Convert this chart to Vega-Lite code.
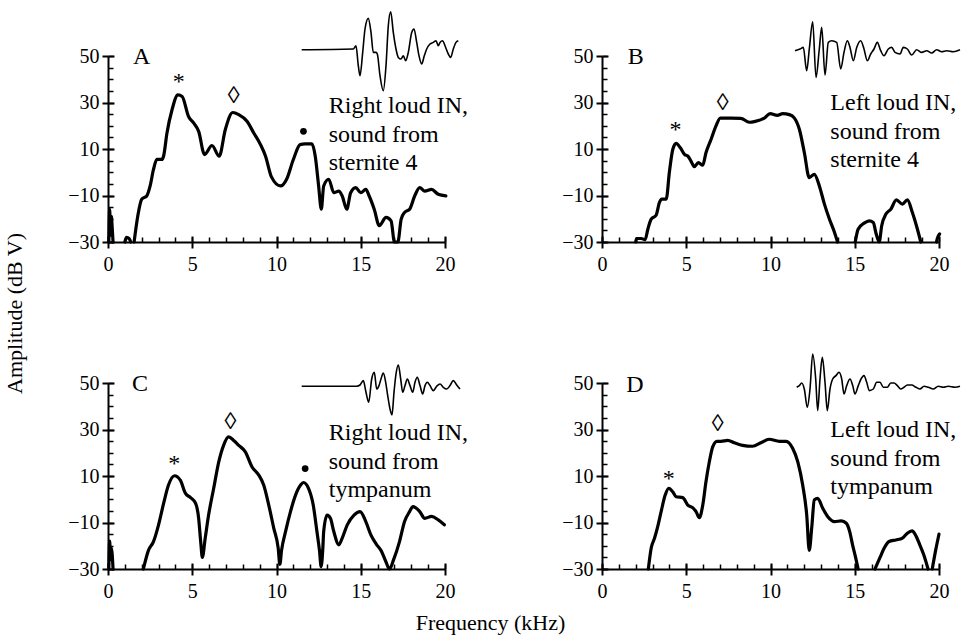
{
"$schema": "https://vega.github.io/schema/vega-lite/v6.json",
"padding": {"left": 3, "top": 8, "right": 5, "bottom": 5},
"bounds": "flush",
"columns": 2,
"spacing": {"row": 141, "column": 157},
"config": {
  "view": {"stroke": null},
  "font": "Liberation Serif",
  "axis": {"labelFont": "Liberation Serif", "labelFontSize": 20, "labelColor": "#000", "domainColor": "#000", "tickColor": "#000", "grid": false, "titleFont": "Liberation Serif", "titleFontSize": 22, "titleFontWeight": "normal", "titleColor": "#000", "labelFlush": false, "labelOverlap": false, "domainWidth": 2, "tickWidth": 2},
  "text": {"font": "Liberation Serif", "color": "#000"}
},
"datasets": {
"curves": [
{"p":"A","s":0,"f":0.05,"db":-30},{"p":"A","s":0,"f":0.1,"db":-16},{"p":"A","s":0,"f":0.15,"db":-27},{"p":"A","s":0,"f":0.2,"db":-19},{"p":"A","s":0,"f":0.25,"db":-24},{"p":"A","s":0,"f":0.3,"db":-30},
{"p":"A","s":1,"f":1.0,"db":-30},{"p":"A","s":1,"f":1.1,"db":-28},{"p":"A","s":1,"f":1.25,"db":-28.5},{"p":"A","s":1,"f":1.35,"db":-30},
{"p":"A","s":2,"f":1.55,"db":-30},{"p":"A","s":2,"f":1.77,"db":-18.7},{"p":"A","s":2,"f":2.0,"db":-11.6},{"p":"A","s":2,"f":2.3,"db":-10.2},{"p":"A","s":2,"f":2.5,"db":-5.9},{"p":"A","s":2,"f":2.7,"db":1.2},{"p":"A","s":2,"f":2.9,"db":5.5},{"p":"A","s":2,"f":3.2,"db":5.5},{"p":"A","s":2,"f":3.3,"db":7},{"p":"A","s":2,"f":3.5,"db":16.9},{"p":"A","s":2,"f":3.8,"db":26.9},{"p":"A","s":2,"f":4.15,"db":33.3},{"p":"A","s":2,"f":4.4,"db":32.6},{"p":"A","s":2,"f":4.78,"db":24.0},{"p":"A","s":2,"f":5.08,"db":21.2},{"p":"A","s":2,"f":5.38,"db":17.6},{"p":"A","s":2,"f":5.73,"db":7.6},{"p":"A","s":2,"f":6.17,"db":11.5},{"p":"A","s":2,"f":6.6,"db":6.9},{"p":"A","s":2,"f":6.96,"db":18.3},{"p":"A","s":2,"f":7.4,"db":25.7},{"p":"A","s":2,"f":7.76,"db":24.8},{"p":"A","s":2,"f":8.25,"db":21.9},{"p":"A","s":2,"f":8.65,"db":16.9},{"p":"A","s":2,"f":9.05,"db":11.9},{"p":"A","s":2,"f":9.35,"db":6.9},{"p":"A","s":2,"f":9.7,"db":-2},{"p":"A","s":2,"f":10.24,"db":-5.9},{"p":"A","s":2,"f":10.6,"db":-3},{"p":"A","s":2,"f":11.0,"db":5.5},{"p":"A","s":2,"f":11.4,"db":11.9},{"p":"A","s":2,"f":11.7,"db":12.2},{"p":"A","s":2,"f":12.1,"db":12.2},{"p":"A","s":2,"f":12.3,"db":6.9},{"p":"A","s":2,"f":12.5,"db":-5.9},{"p":"A","s":2,"f":12.66,"db":-15.9},{"p":"A","s":2,"f":12.8,"db":-5.9},{"p":"A","s":2,"f":13.1,"db":-3},{"p":"A","s":2,"f":13.4,"db":-8.8},{"p":"A","s":2,"f":13.7,"db":-8.1},{"p":"A","s":2,"f":13.9,"db":-10.2},{"p":"A","s":2,"f":14.17,"db":-15.9},{"p":"A","s":2,"f":14.4,"db":-8.8},{"p":"A","s":2,"f":14.7,"db":-6.6},{"p":"A","s":2,"f":15.0,"db":-8.8},{"p":"A","s":2,"f":15.3,"db":-7.4},{"p":"A","s":2,"f":15.5,"db":-10.2},{"p":"A","s":2,"f":15.8,"db":-15.9},{"p":"A","s":2,"f":16.1,"db":-23},{"p":"A","s":2,"f":16.5,"db":-19.4},{"p":"A","s":2,"f":16.8,"db":-20.9},{"p":"A","s":2,"f":17.0,"db":-30},{"p":"A","s":2,"f":17.2,"db":-30},{"p":"A","s":2,"f":17.4,"db":-20.2},{"p":"A","s":2,"f":17.6,"db":-17.3},{"p":"A","s":2,"f":17.9,"db":-15.9},{"p":"A","s":2,"f":18.2,"db":-10.2},{"p":"A","s":2,"f":18.5,"db":-6.6},{"p":"A","s":2,"f":18.8,"db":-8.1},{"p":"A","s":2,"f":19.2,"db":-7.4},{"p":"A","s":2,"f":19.6,"db":-9.5},{"p":"A","s":2,"f":20.05,"db":-10.2},
{"p":"B","s":1,"f":2.0,"db":-30},{"p":"B","s":1,"f":2.05,"db":-28.5},{"p":"B","s":1,"f":2.33,"db":-28.5},{"p":"B","s":1,"f":2.56,"db":-29},{"p":"B","s":1,"f":2.72,"db":-24.5},{"p":"B","s":1,"f":2.92,"db":-20.2},{"p":"B","s":1,"f":3.21,"db":-18.5},{"p":"B","s":1,"f":3.41,"db":-13},{"p":"B","s":1,"f":3.55,"db":-11.6},{"p":"B","s":1,"f":3.81,"db":-11.6},{"p":"B","s":1,"f":4.0,"db":0.1},{"p":"B","s":1,"f":4.2,"db":9.8},{"p":"B","s":1,"f":4.4,"db":12.4},{"p":"B","s":1,"f":4.65,"db":10.5},{"p":"B","s":1,"f":4.9,"db":7.6},{"p":"B","s":1,"f":5.09,"db":7},{"p":"B","s":1,"f":5.28,"db":4.8},{"p":"B","s":1,"f":5.48,"db":2.4},{"p":"B","s":1,"f":5.72,"db":4.1},{"p":"B","s":1,"f":5.98,"db":3.1},{"p":"B","s":1,"f":6.17,"db":8.4},{"p":"B","s":1,"f":6.47,"db":14.1},{"p":"B","s":1,"f":6.76,"db":19.8},{"p":"B","s":1,"f":7.02,"db":23.3},{"p":"B","s":1,"f":7.65,"db":23.3},{"p":"B","s":1,"f":8.24,"db":23.2},{"p":"B","s":1,"f":8.74,"db":21.5},{"p":"B","s":1,"f":9.1,"db":21.9},{"p":"B","s":1,"f":9.63,"db":23.3},{"p":"B","s":1,"f":9.98,"db":25.2},{"p":"B","s":1,"f":10.4,"db":24.5},{"p":"B","s":1,"f":10.73,"db":25.2},{"p":"B","s":1,"f":11.12,"db":24.8},{"p":"B","s":1,"f":11.42,"db":23.3},{"p":"B","s":1,"f":11.72,"db":18.3},{"p":"B","s":1,"f":12.01,"db":8.4},{"p":"B","s":1,"f":12.3,"db":-2.3},{"p":"B","s":1,"f":12.6,"db":-0.9},{"p":"B","s":1,"f":12.9,"db":-5.9},{"p":"B","s":1,"f":13.2,"db":-13.7},{"p":"B","s":1,"f":13.5,"db":-20.2},{"p":"B","s":1,"f":13.8,"db":-25.9},{"p":"B","s":1,"f":13.98,"db":-30},
{"p":"B","s":2,"f":15.03,"db":-30},{"p":"B","s":2,"f":15.2,"db":-24.5},{"p":"B","s":2,"f":15.56,"db":-21.9},{"p":"B","s":2,"f":15.86,"db":-20.9},{"p":"B","s":2,"f":16.1,"db":-21.6},{"p":"B","s":2,"f":16.25,"db":-25.9},{"p":"B","s":2,"f":16.45,"db":-30},{"p":"B","s":2,"f":16.6,"db":-23},{"p":"B","s":2,"f":16.85,"db":-18},{"p":"B","s":2,"f":17.14,"db":-15.9},{"p":"B","s":2,"f":17.47,"db":-11.9},{"p":"B","s":2,"f":17.83,"db":-13.7},{"p":"B","s":2,"f":18.12,"db":-11.9},{"p":"B","s":2,"f":18.42,"db":-17.3},{"p":"B","s":2,"f":18.72,"db":-24.5},{"p":"B","s":2,"f":18.92,"db":-30},
{"p":"B","s":3,"f":19.85,"db":-30},{"p":"B","s":3,"f":19.9,"db":-28.5},{"p":"B","s":3,"f":20.04,"db":-26.5},
{"p":"C","s":0,"f":0.05,"db":-30},{"p":"C","s":0,"f":0.1,"db":-18},{"p":"C","s":0,"f":0.15,"db":-26},{"p":"C","s":0,"f":0.2,"db":-21},{"p":"C","s":0,"f":0.3,"db":-30},
{"p":"C","s":1,"f":2.1,"db":-30},{"p":"C","s":1,"f":2.4,"db":-22},{"p":"C","s":1,"f":2.7,"db":-18.2},{"p":"C","s":1,"f":3.0,"db":-11},{"p":"C","s":1,"f":3.3,"db":-1.8},{"p":"C","s":1,"f":3.59,"db":6.1},{"p":"C","s":1,"f":3.95,"db":10.1},{"p":"C","s":1,"f":4.29,"db":8.2},{"p":"C","s":1,"f":4.6,"db":2.5},{"p":"C","s":1,"f":4.9,"db":0.7},{"p":"C","s":1,"f":5.2,"db":-1.8},{"p":"C","s":1,"f":5.38,"db":-8.2},{"p":"C","s":1,"f":5.5,"db":-18.2},{"p":"C","s":1,"f":5.6,"db":-25},{"p":"C","s":1,"f":5.77,"db":-16.7},{"p":"C","s":1,"f":5.97,"db":-6.8},{"p":"C","s":1,"f":6.27,"db":4.6},{"p":"C","s":1,"f":6.57,"db":16},{"p":"C","s":1,"f":6.86,"db":23.2},{"p":"C","s":1,"f":7.16,"db":26.8},{"p":"C","s":1,"f":7.46,"db":25.3},{"p":"C","s":1,"f":7.76,"db":23.2},{"p":"C","s":1,"f":8.15,"db":20.4},{"p":"C","s":1,"f":8.55,"db":13.9},{"p":"C","s":1,"f":8.95,"db":10.4},{"p":"C","s":1,"f":9.24,"db":6.1},{"p":"C","s":1,"f":9.54,"db":-2.5},{"p":"C","s":1,"f":9.84,"db":-12.5},{"p":"C","s":1,"f":10.1,"db":-21},{"p":"C","s":1,"f":10.2,"db":-28},{"p":"C","s":1,"f":10.3,"db":-22},{"p":"C","s":1,"f":10.54,"db":-13.8},{"p":"C","s":1,"f":10.83,"db":-5.3},{"p":"C","s":1,"f":11.13,"db":1.8},{"p":"C","s":1,"f":11.43,"db":6.1},{"p":"C","s":1,"f":11.6,"db":7.2},{"p":"C","s":1,"f":11.9,"db":4.7},{"p":"C","s":1,"f":12.18,"db":-2.5},{"p":"C","s":1,"f":12.4,"db":-13.9},{"p":"C","s":1,"f":12.55,"db":-22},{"p":"C","s":1,"f":12.65,"db":-29},{"p":"C","s":1,"f":12.75,"db":-21},{"p":"C","s":1,"f":12.8,"db":-13.9},{"p":"C","s":1,"f":13.0,"db":-6.8},{"p":"C","s":1,"f":13.2,"db":-8.2},{"p":"C","s":1,"f":13.4,"db":-13.9},{"p":"C","s":1,"f":13.7,"db":-19.6},{"p":"C","s":1,"f":13.9,"db":-16.7},{"p":"C","s":1,"f":14.2,"db":-11},{"p":"C","s":1,"f":14.6,"db":-6.8},{"p":"C","s":1,"f":14.96,"db":-5.3},{"p":"C","s":1,"f":15.3,"db":-9.6},{"p":"C","s":1,"f":15.6,"db":-15.3},{"p":"C","s":1,"f":15.95,"db":-19.6},{"p":"C","s":1,"f":16.2,"db":-22},{"p":"C","s":1,"f":16.5,"db":-27},{"p":"C","s":1,"f":16.7,"db":-30},{"p":"C","s":1,"f":16.95,"db":-26},{"p":"C","s":1,"f":17.3,"db":-18.2},{"p":"C","s":1,"f":17.6,"db":-9.6},{"p":"C","s":1,"f":17.9,"db":-5.3},{"p":"C","s":1,"f":18.1,"db":-3.2},{"p":"C","s":1,"f":18.5,"db":-5.3},{"p":"C","s":1,"f":18.8,"db":-8.2},{"p":"C","s":1,"f":19.2,"db":-7.4},{"p":"C","s":1,"f":19.6,"db":-8.9},{"p":"C","s":1,"f":19.96,"db":-11},
{"p":"D","s":1,"f":2.75,"db":-30},{"p":"D","s":1,"f":2.92,"db":-21},{"p":"D","s":1,"f":3.12,"db":-16.7},{"p":"D","s":1,"f":3.31,"db":-11.7},{"p":"D","s":1,"f":3.51,"db":-5.3},{"p":"D","s":1,"f":3.75,"db":1.8},{"p":"D","s":1,"f":3.96,"db":4.7},{"p":"D","s":1,"f":4.2,"db":3.2},{"p":"D","s":1,"f":4.4,"db":1.1},{"p":"D","s":1,"f":4.79,"db":0.7},{"p":"D","s":1,"f":5.09,"db":-2.5},{"p":"D","s":1,"f":5.38,"db":-3.6},{"p":"D","s":1,"f":5.58,"db":-5.3},{"p":"D","s":1,"f":5.78,"db":-7.9},{"p":"D","s":1,"f":5.98,"db":-2.5},{"p":"D","s":1,"f":6.17,"db":7.5},{"p":"D","s":1,"f":6.37,"db":16.1},{"p":"D","s":1,"f":6.57,"db":22.5},{"p":"D","s":1,"f":6.82,"db":24.9},{"p":"D","s":1,"f":7.06,"db":24.9},{"p":"D","s":1,"f":7.46,"db":25.3},{"p":"D","s":1,"f":7.85,"db":24.3},{"p":"D","s":1,"f":8.34,"db":23.2},{"p":"D","s":1,"f":8.93,"db":22.8},{"p":"D","s":1,"f":9.43,"db":24.3},{"p":"D","s":1,"f":9.92,"db":25.8},{"p":"D","s":1,"f":10.53,"db":24.9},{"p":"D","s":1,"f":10.93,"db":24.9},{"p":"D","s":1,"f":11.32,"db":21.8},{"p":"D","s":1,"f":11.62,"db":16.1},{"p":"D","s":1,"f":11.91,"db":6.1},{"p":"D","s":1,"f":12.15,"db":-6.8},{"p":"D","s":1,"f":12.3,"db":-22},{"p":"D","s":1,"f":12.45,"db":-12},{"p":"D","s":1,"f":12.6,"db":-0.3},{"p":"D","s":1,"f":12.8,"db":0.4},{"p":"D","s":1,"f":13.1,"db":-3.9},{"p":"D","s":1,"f":13.4,"db":-7.5},{"p":"D","s":1,"f":13.8,"db":-9.6},{"p":"D","s":1,"f":14.2,"db":-9.3},{"p":"D","s":1,"f":14.5,"db":-10.3},{"p":"D","s":1,"f":14.7,"db":-13.9},{"p":"D","s":1,"f":14.87,"db":-19.6},{"p":"D","s":1,"f":15.05,"db":-25},{"p":"D","s":1,"f":15.2,"db":-30},
{"p":"D","s":2,"f":16.2,"db":-30},{"p":"D","s":2,"f":16.5,"db":-25},{"p":"D","s":2,"f":16.75,"db":-21},{"p":"D","s":2,"f":17.04,"db":-18.2},{"p":"D","s":2,"f":17.44,"db":-17.5},{"p":"D","s":2,"f":17.83,"db":-16.7},{"p":"D","s":2,"f":18.12,"db":-14.6},{"p":"D","s":2,"f":18.4,"db":-13.6},{"p":"D","s":2,"f":18.6,"db":-15.3},{"p":"D","s":2,"f":18.86,"db":-19.6},{"p":"D","s":2,"f":19.1,"db":-24},{"p":"D","s":2,"f":19.35,"db":-30},
{"p":"D","s":3,"f":19.6,"db":-30},{"p":"D","s":3,"f":19.8,"db":-22},{"p":"D","s":3,"f":20.0,"db":-15}
],
"waves": [
{"p":"A","t":0,"v":0},{"p":"A","t":51.6,"v":0.7},{"p":"A","t":54.3,"v":4},{"p":"A","t":56.6,"v":-16},{"p":"A","t":58.3,"v":-26},{"p":"A","t":61,"v":-2.7},{"p":"A","t":63.3,"v":20.7},{"p":"A","t":66.6,"v":31.3},{"p":"A","t":69.3,"v":17.3},{"p":"A","t":71.6,"v":-2.7},{"p":"A","t":74.3,"v":-2.7},{"p":"A","t":75.6,"v":-4.3},{"p":"A","t":78.3,"v":-26},{"p":"A","t":81.6,"v":-41},{"p":"A","t":84.3,"v":-16},{"p":"A","t":86.6,"v":24},{"p":"A","t":89,"v":38},{"p":"A","t":91.6,"v":17.3},{"p":"A","t":94.3,"v":0.7},{"p":"A","t":96.6,"v":-7.7},{"p":"A","t":99.3,"v":-9.3},{"p":"A","t":101.6,"v":-6},{"p":"A","t":104,"v":-11},{"p":"A","t":106.6,"v":-2.7},{"p":"A","t":110,"v":17.3},{"p":"A","t":112.3,"v":20.7},{"p":"A","t":115,"v":7.3},{"p":"A","t":117.3,"v":-6},{"p":"A","t":120,"v":-14.3},{"p":"A","t":122.6,"v":-6},{"p":"A","t":125,"v":0.7},{"p":"A","t":128.3,"v":5.7},{"p":"A","t":131.6,"v":7.3},{"p":"A","t":134.3,"v":9},{"p":"A","t":136.6,"v":4},{"p":"A","t":138.3,"v":7.3},{"p":"A","t":141,"v":9},{"p":"A","t":143.3,"v":4},{"p":"A","t":146.6,"v":-4.3},{"p":"A","t":149,"v":-7.7},{"p":"A","t":151.6,"v":0.7},{"p":"A","t":154.3,"v":7.3},{"p":"A","t":156.6,"v":9},
{"p":"B","t":0,"v":0},{"p":"B","t":5,"v":1.7},{"p":"B","t":8.3,"v":3.3},{"p":"B","t":11.7,"v":-20},{"p":"B","t":14.3,"v":1.7},{"p":"B","t":17.7,"v":29},{"p":"B","t":21,"v":-26.7},{"p":"B","t":24.3,"v":1.7},{"p":"B","t":26.7,"v":23.3},{"p":"B","t":30,"v":-24.3},{"p":"B","t":33.3,"v":8.3},{"p":"B","t":36.7,"v":10},{"p":"B","t":41.7,"v":8.3},{"p":"B","t":45.7,"v":-18.3},{"p":"B","t":49,"v":-1.7},{"p":"B","t":52.3,"v":10},{"p":"B","t":55,"v":3.3},{"p":"B","t":58.3,"v":-10},{"p":"B","t":61.7,"v":3.3},{"p":"B","t":65.7,"v":10},{"p":"B","t":69,"v":1.7},{"p":"B","t":72.3,"v":-10},{"p":"B","t":75.7,"v":-3.3},{"p":"B","t":79,"v":1.7},{"p":"B","t":82.3,"v":8.3},{"p":"B","t":85.7,"v":0},{"p":"B","t":89,"v":-5},{"p":"B","t":93.3,"v":1.7},{"p":"B","t":96.7,"v":3.3},{"p":"B","t":100,"v":-1.7},{"p":"B","t":105,"v":-3.3},{"p":"B","t":108.3,"v":3.3},{"p":"B","t":112.3,"v":1.7},{"p":"B","t":116.7,"v":-4.3},{"p":"B","t":121.7,"v":1},{"p":"B","t":126.7,"v":-1.7},{"p":"B","t":131.7,"v":0},{"p":"B","t":136.7,"v":-2.3},{"p":"B","t":141.7,"v":1},{"p":"B","t":146.7,"v":-1},{"p":"B","t":151.7,"v":0},{"p":"B","t":158.3,"v":-1},{"p":"B","t":165,"v":1},
{"p":"C","t":0,"v":0},{"p":"C","t":55,"v":0},{"p":"C","t":58.3,"v":1.3},{"p":"C","t":61.6,"v":5.7},{"p":"C","t":64.3,"v":-6},{"p":"C","t":67,"v":-16},{"p":"C","t":70,"v":7.3},{"p":"C","t":72.6,"v":14},{"p":"C","t":75,"v":-2.7},{"p":"C","t":77.3,"v":0.7},{"p":"C","t":79.3,"v":7.3},{"p":"C","t":81.6,"v":13.3},{"p":"C","t":84,"v":4},{"p":"C","t":86,"v":-9.3},{"p":"C","t":88.3,"v":-22.7},{"p":"C","t":90.3,"v":-28.7},{"p":"C","t":92.3,"v":-6},{"p":"C","t":94.3,"v":12.3},{"p":"C","t":96.6,"v":21.3},{"p":"C","t":99,"v":7.3},{"p":"C","t":101,"v":-6},{"p":"C","t":103.3,"v":0.7},{"p":"C","t":105.6,"v":7.3},{"p":"C","t":108.3,"v":0.7},{"p":"C","t":111,"v":-6},{"p":"C","t":113.3,"v":4},{"p":"C","t":115.6,"v":9},{"p":"C","t":118.3,"v":0.7},{"p":"C","t":121,"v":-7.7},{"p":"C","t":123.3,"v":0.7},{"p":"C","t":125.6,"v":4},{"p":"C","t":128.3,"v":0.7},{"p":"C","t":131.6,"v":-4.3},{"p":"C","t":135,"v":0},{"p":"C","t":138.3,"v":2.3},{"p":"C","t":141.6,"v":-1},{"p":"C","t":145,"v":-2.7},{"p":"C","t":148.3,"v":0.7},{"p":"C","t":151.6,"v":5.7},{"p":"C","t":155,"v":1.3},{"p":"C","t":158.3,"v":-2.7},
{"p":"D","t":0,"v":-1},{"p":"D","t":2.6,"v":0.7},{"p":"D","t":5,"v":3.3},{"p":"D","t":7.6,"v":-2.7},{"p":"D","t":10.6,"v":-21},{"p":"D","t":13.3,"v":-2.7},{"p":"D","t":16,"v":32.3},{"p":"D","t":19,"v":7.3},{"p":"D","t":21,"v":-24.3},{"p":"D","t":23.3,"v":7.3},{"p":"D","t":25.6,"v":29},{"p":"D","t":28.3,"v":4},{"p":"D","t":30.6,"v":-24.3},{"p":"D","t":33.3,"v":-2.7},{"p":"D","t":36,"v":7.3},{"p":"D","t":39.3,"v":10.7},{"p":"D","t":42.3,"v":14},{"p":"D","t":45,"v":7.3},{"p":"D","t":47.3,"v":-7.7},{"p":"D","t":50,"v":0.7},{"p":"D","t":53.3,"v":7.3},{"p":"D","t":56,"v":0.7},{"p":"D","t":58.3,"v":-7.7},{"p":"D","t":61.6,"v":0.7},{"p":"D","t":64.3,"v":7.3},{"p":"D","t":67.3,"v":10.7},{"p":"D","t":70,"v":4},{"p":"D","t":72.6,"v":-4.3},{"p":"D","t":76.6,"v":-2.7},{"p":"D","t":80,"v":4},{"p":"D","t":83.3,"v":4},{"p":"D","t":86.6,"v":-1},{"p":"D","t":90.6,"v":-1},{"p":"D","t":94,"v":3.3},{"p":"D","t":97.3,"v":3.3},{"p":"D","t":100.6,"v":0.7},{"p":"D","t":104,"v":-2.7},{"p":"D","t":107.3,"v":-1},{"p":"D","t":110.6,"v":1.3},{"p":"D","t":115,"v":1.3},{"p":"D","t":119.3,"v":-1},{"p":"D","t":123.3,"v":-2.7},{"p":"D","t":127.3,"v":0},{"p":"D","t":131.6,"v":-1},{"p":"D","t":136.6,"v":-2.7},{"p":"D","t":141.6,"v":0},{"p":"D","t":146.6,"v":-1},{"p":"D","t":151.6,"v":0},{"p":"D","t":158.3,"v":-1},{"p":"D","t":163.3,"v":0}
],
"marks": [
{"p":"A","f":2.0,"db":49.5,"txt":"A"},{"p":"A","f":4.2,"db":39,"txt":"*"},{"p":"A","f":7.46,"db":32.6,"txt":"◊"},{"p":"A","f":11.6,"db":17.6,"txt":"•"},
{"p":"B","f":2.0,"db":49.5,"txt":"B"},{"p":"B","f":4.36,"db":18.2,"txt":"*"},{"p":"B","f":7.16,"db":30,"txt":"◊"},
{"p":"C","f":1.9,"db":49.5,"txt":"C"},{"p":"C","f":3.93,"db":15.3,"txt":"*"},{"p":"C","f":7.26,"db":33.2,"txt":"◊"},{"p":"C","f":11.7,"db":13.2,"txt":"•"},
{"p":"D","f":1.95,"db":49.2,"txt":"D"},{"p":"D","f":3.96,"db":8.9,"txt":"*"},{"p":"D","f":6.86,"db":32.5,"txt":"◊"}
],
"notes": [
{"p":"A","f":13.1,"db":28.5,"txt":"Right loud IN,"},{"p":"A","f":13.1,"db":16.2,"txt":"sound from"},{"p":"A","f":13.1,"db":4.1,"txt":"sternite 4"},
{"p":"B","f":13.55,"db":30,"txt":"Left loud IN,"},{"p":"B","f":13.55,"db":17.4,"txt":"sound from"},{"p":"B","f":13.55,"db":5.4,"txt":"sternite 4"},
{"p":"C","f":13.1,"db":28.5,"txt":"Right loud IN,"},{"p":"C","f":13.1,"db":16.2,"txt":"sound from"},{"p":"C","f":13.1,"db":4.1,"txt":"tympanum"},
{"p":"D","f":13.55,"db":30,"txt":"Left loud IN,"},{"p":"D","f":13.55,"db":17.4,"txt":"sound from"},{"p":"D","f":13.55,"db":5.4,"txt":"tympanum"}
]
},
"concat": [
{"width": 337, "height": 186,
 "layer": [
  {"data": {"name": "curves"}, "transform": [{"filter": "datum.p==='A'"}],
   "mark": {"type": "line", "color": "#000", "strokeWidth": 3.2, "strokeJoin": "round", "strokeCap": "round", "interpolate": "monotone"},
   "encoding": {
    "x": {"field": "f", "type": "quantitative", "scale": {"domain": [0, 20], "nice": false, "zero": false}, "axis": {"orient": "bottom", "values": [0, 5, 10, 15, 20], "tickSize": 6, "labelPadding": 6, "title": null}},
    "y": {"field": "db", "type": "quantitative", "scale": {"domain": [-30, 50], "nice": false, "zero": false}, "axis": {"orient": "left", "values": [-30, -10, 10, 30, 50], "tickSize": 6, "labelPadding": 3, "title": "Amplitude (dB V)", "titleX": -94, "titleY": 257, "titleAngle": -90, "titleAlign": "center", "titleBaseline": "middle"}},
    "detail": {"field": "s", "type": "nominal"},
    "order": {"field": "f", "type": "quantitative"}}},
  {"data": {"name": "marks"}, "transform": [{"filter": "datum.p==='A' && datum.txt!=='•'"}],
   "mark": {"type": "text", "fontSize": 24, "baseline": "middle", "align": "center"},
   "encoding": {
    "x": {"field": "f", "type": "quantitative", "scale": {"domain": [0, 20], "nice": false, "zero": false}, "axis": {"orient": "bottom", "values": [0, 5, 10, 15, 20], "tickSize": -6, "domain": false, "labels": false, "title": null}},
    "y": {"field": "db", "type": "quantitative", "scale": {"domain": [-30, 50], "nice": false, "zero": false}, "axis": {"orient": "left", "values": [-30, -10, 10, 30, 50], "tickSize": -6, "domain": false, "labels": false, "title": null}},
    "text": {"field": "txt"}}},
  {"data": {"name": "marks"}, "transform": [{"filter": "datum.p==='A' && datum.txt==='•'"}],
   "mark": {"type": "point", "filled": true, "shape": "circle", "size": 45, "color": "#000", "opacity": 1},
   "encoding": {
    "x": {"field": "f", "type": "quantitative", "scale": {"domain": [0, 20], "nice": false, "zero": false}, "axis": null},
    "y": {"field": "db", "type": "quantitative", "scale": {"domain": [-30, 50], "nice": false, "zero": false}, "axis": null}}},
  {"data": {"name": "notes"}, "transform": [{"filter": "datum.p==='A'"}],
   "mark": {"type": "text", "fontSize": 24, "baseline": "middle", "align": "left"},
   "encoding": {
    "x": {"field": "f", "type": "quantitative", "scale": {"domain": [0, 20], "nice": false, "zero": false}, "axis": {"orient": "bottom", "values": [0,1,2,3,4,5,6,7,8,9,10,11,12,13,14,15,16,17,18,19,20], "tickSize": -5, "tickWidth": 1.5, "domain": false, "labels": false, "title": null}},
    "y": {"field": "db", "type": "quantitative", "scale": {"domain": [-30, 50], "nice": false, "zero": false}, "axis": {"orient": "left", "values": [-30,-25,-20,-15,-10,-5,0,5,10,15,20,25,30,35,40,45,50], "tickSize": -5, "tickWidth": 1.5, "domain": false, "labels": false, "title": null}},
    "text": {"field": "txt"}}},
  {"data": {"name": "waves"}, "transform": [{"filter": "datum.p==='A'"}],
   "mark": {"type": "line", "color": "#000", "strokeWidth": 1.6, "interpolate": "monotone"},
   "encoding": {
    "x": {"field": "t", "type": "quantitative", "scale": {"domain": [-193.7, 143.3], "nice": false, "zero": false}, "axis": null},
    "y": {"field": "v", "type": "quantitative", "scale": {"domain": [-192.3, -6.3], "nice": false, "zero": false}, "axis": null},
    "order": {"field": "t", "type": "quantitative"}}}
 ],
 "resolve": {"scale": {"x": "independent", "y": "independent"}, "axis": {"x": "independent", "y": "independent"}}
},
{"width": 337, "height": 186,
 "layer": [
  {"data": {"name": "curves"}, "transform": [{"filter": "datum.p==='B'"}],
   "mark": {"type": "line", "color": "#000", "strokeWidth": 3.2, "strokeJoin": "round", "strokeCap": "round", "interpolate": "monotone"},
   "encoding": {
    "x": {"field": "f", "type": "quantitative", "scale": {"domain": [0, 20], "nice": false, "zero": false}, "axis": {"orient": "bottom", "values": [0, 5, 10, 15, 20], "tickSize": 6, "labelPadding": 6, "title": null}},
    "y": {"field": "db", "type": "quantitative", "scale": {"domain": [-30, 50], "nice": false, "zero": false}, "axis": {"orient": "left", "values": [-30, -10, 10, 30, 50], "tickSize": 6, "labelPadding": 3, "title": null}},
    "detail": {"field": "s", "type": "nominal"},
    "order": {"field": "f", "type": "quantitative"}}},
  {"data": {"name": "marks"}, "transform": [{"filter": "datum.p==='B'"}],
   "mark": {"type": "text", "fontSize": 24, "baseline": "middle", "align": "center"},
   "encoding": {
    "x": {"field": "f", "type": "quantitative", "scale": {"domain": [0, 20], "nice": false, "zero": false}, "axis": {"orient": "bottom", "values": [0, 5, 10, 15, 20], "tickSize": -6, "domain": false, "labels": false, "title": null}},
    "y": {"field": "db", "type": "quantitative", "scale": {"domain": [-30, 50], "nice": false, "zero": false}, "axis": {"orient": "left", "values": [-30, -10, 10, 30, 50], "tickSize": -6, "domain": false, "labels": false, "title": null}},
    "text": {"field": "txt"}}},
  {"data": {"name": "notes"}, "transform": [{"filter": "datum.p==='B'"}],
   "mark": {"type": "text", "fontSize": 24, "baseline": "middle", "align": "left"},
   "encoding": {
    "x": {"field": "f", "type": "quantitative", "scale": {"domain": [0, 20], "nice": false, "zero": false}, "axis": {"orient": "bottom", "values": [0,1,2,3,4,5,6,7,8,9,10,11,12,13,14,15,16,17,18,19,20], "tickSize": -5, "tickWidth": 1.5, "domain": false, "labels": false, "title": null}},
    "y": {"field": "db", "type": "quantitative", "scale": {"domain": [-30, 50], "nice": false, "zero": false}, "axis": {"orient": "left", "values": [-30,-25,-20,-15,-10,-5,0,5,10,15,20,25,30,35,40,45,50], "tickSize": -5, "tickWidth": 1.5, "domain": false, "labels": false, "title": null}},
    "text": {"field": "txt"}}},
  {"data": {"name": "waves"}, "transform": [{"filter": "datum.p==='B'"}],
   "mark": {"type": "line", "color": "#000", "strokeWidth": 1.6, "interpolate": "monotone"},
   "encoding": {
    "x": {"field": "t", "type": "quantitative", "scale": {"domain": [-193, 144], "nice": false, "zero": false}, "axis": null},
    "y": {"field": "v", "type": "quantitative", "scale": {"domain": [-191.3, -5.3], "nice": false, "zero": false}, "axis": null},
    "order": {"field": "t", "type": "quantitative"}}}
 ],
 "resolve": {"scale": {"x": "independent", "y": "independent"}, "axis": {"x": "independent", "y": "independent"}}
},
{"width": 337, "height": 186,
 "layer": [
  {"data": {"name": "curves"}, "transform": [{"filter": "datum.p==='C'"}],
   "mark": {"type": "line", "color": "#000", "strokeWidth": 3.2, "strokeJoin": "round", "strokeCap": "round", "interpolate": "monotone"},
   "encoding": {
    "x": {"field": "f", "type": "quantitative", "scale": {"domain": [0, 20], "nice": false, "zero": false}, "axis": {"orient": "bottom", "values": [0, 5, 10, 15, 20], "tickSize": 6, "labelPadding": 6, "title": "Frequency (kHz)", "titleX": 382, "titleY": 53, "titleAlign": "center", "titleBaseline": "middle"}},
    "y": {"field": "db", "type": "quantitative", "scale": {"domain": [-30, 50], "nice": false, "zero": false}, "axis": {"orient": "left", "values": [-30, -10, 10, 30, 50], "tickSize": 6, "labelPadding": 3, "title": null}},
    "detail": {"field": "s", "type": "nominal"},
    "order": {"field": "f", "type": "quantitative"}}},
  {"data": {"name": "marks"}, "transform": [{"filter": "datum.p==='C' && datum.txt!=='•'"}],
   "mark": {"type": "text", "fontSize": 24, "baseline": "middle", "align": "center"},
   "encoding": {
    "x": {"field": "f", "type": "quantitative", "scale": {"domain": [0, 20], "nice": false, "zero": false}, "axis": {"orient": "bottom", "values": [0, 5, 10, 15, 20], "tickSize": -6, "domain": false, "labels": false, "title": null}},
    "y": {"field": "db", "type": "quantitative", "scale": {"domain": [-30, 50], "nice": false, "zero": false}, "axis": {"orient": "left", "values": [-30, -10, 10, 30, 50], "tickSize": -6, "domain": false, "labels": false, "title": null}},
    "text": {"field": "txt"}}},
  {"data": {"name": "marks"}, "transform": [{"filter": "datum.p==='C' && datum.txt==='•'"}],
   "mark": {"type": "point", "filled": true, "shape": "circle", "size": 45, "color": "#000", "opacity": 1},
   "encoding": {
    "x": {"field": "f", "type": "quantitative", "scale": {"domain": [0, 20], "nice": false, "zero": false}, "axis": null},
    "y": {"field": "db", "type": "quantitative", "scale": {"domain": [-30, 50], "nice": false, "zero": false}, "axis": null}}},
  {"data": {"name": "notes"}, "transform": [{"filter": "datum.p==='C'"}],
   "mark": {"type": "text", "fontSize": 24, "baseline": "middle", "align": "left"},
   "encoding": {
    "x": {"field": "f", "type": "quantitative", "scale": {"domain": [0, 20], "nice": false, "zero": false}, "axis": {"orient": "bottom", "values": [0,1,2,3,4,5,6,7,8,9,10,11,12,13,14,15,16,17,18,19,20], "tickSize": -5, "tickWidth": 1.5, "domain": false, "labels": false, "title": null}},
    "y": {"field": "db", "type": "quantitative", "scale": {"domain": [-30, 50], "nice": false, "zero": false}, "axis": {"orient": "left", "values": [-30,-25,-20,-15,-10,-5,0,5,10,15,20,25,30,35,40,45,50], "tickSize": -5, "tickWidth": 1.5, "domain": false, "labels": false, "title": null}},
    "text": {"field": "txt"}}},
  {"data": {"name": "waves"}, "transform": [{"filter": "datum.p==='C'"}],
   "mark": {"type": "line", "color": "#000", "strokeWidth": 1.6, "interpolate": "monotone"},
   "encoding": {
    "x": {"field": "t", "type": "quantitative", "scale": {"domain": [-193.7, 143.3], "nice": false, "zero": false}, "axis": null},
    "y": {"field": "v", "type": "quantitative", "scale": {"domain": [-182.7, 3.3], "nice": false, "zero": false}, "axis": null},
    "order": {"field": "t", "type": "quantitative"}}}
 ],
 "resolve": {"scale": {"x": "independent", "y": "independent"}, "axis": {"x": "independent", "y": "independent"}}
},
{"width": 337, "height": 186,
 "layer": [
  {"data": {"name": "curves"}, "transform": [{"filter": "datum.p==='D'"}],
   "mark": {"type": "line", "color": "#000", "strokeWidth": 3.2, "strokeJoin": "round", "strokeCap": "round", "interpolate": "monotone"},
   "encoding": {
    "x": {"field": "f", "type": "quantitative", "scale": {"domain": [0, 20], "nice": false, "zero": false}, "axis": {"orient": "bottom", "values": [0, 5, 10, 15, 20], "tickSize": 6, "labelPadding": 6, "title": null}},
    "y": {"field": "db", "type": "quantitative", "scale": {"domain": [-30, 50], "nice": false, "zero": false}, "axis": {"orient": "left", "values": [-30, -10, 10, 30, 50], "tickSize": 6, "labelPadding": 3, "title": null}},
    "detail": {"field": "s", "type": "nominal"},
    "order": {"field": "f", "type": "quantitative"}}},
  {"data": {"name": "marks"}, "transform": [{"filter": "datum.p==='D'"}],
   "mark": {"type": "text", "fontSize": 24, "baseline": "middle", "align": "center"},
   "encoding": {
    "x": {"field": "f", "type": "quantitative", "scale": {"domain": [0, 20], "nice": false, "zero": false}, "axis": {"orient": "bottom", "values": [0, 5, 10, 15, 20], "tickSize": -6, "domain": false, "labels": false, "title": null}},
    "y": {"field": "db", "type": "quantitative", "scale": {"domain": [-30, 50], "nice": false, "zero": false}, "axis": {"orient": "left", "values": [-30, -10, 10, 30, 50], "tickSize": -6, "domain": false, "labels": false, "title": null}},
    "text": {"field": "txt"}}},
  {"data": {"name": "notes"}, "transform": [{"filter": "datum.p==='D'"}],
   "mark": {"type": "text", "fontSize": 24, "baseline": "middle", "align": "left"},
   "encoding": {
    "x": {"field": "f", "type": "quantitative", "scale": {"domain": [0, 20], "nice": false, "zero": false}, "axis": {"orient": "bottom", "values": [0,1,2,3,4,5,6,7,8,9,10,11,12,13,14,15,16,17,18,19,20], "tickSize": -5, "tickWidth": 1.5, "domain": false, "labels": false, "title": null}},
    "y": {"field": "db", "type": "quantitative", "scale": {"domain": [-30, 50], "nice": false, "zero": false}, "axis": {"orient": "left", "values": [-30,-25,-20,-15,-10,-5,0,5,10,15,20,25,30,35,40,45,50], "tickSize": -5, "tickWidth": 1.5, "domain": false, "labels": false, "title": null}},
    "text": {"field": "txt"}}},
  {"data": {"name": "waves"}, "transform": [{"filter": "datum.p==='D'"}],
   "mark": {"type": "line", "color": "#000", "strokeWidth": 1.6, "interpolate": "monotone"},
   "encoding": {
    "x": {"field": "t", "type": "quantitative", "scale": {"domain": [-194.7, 142.3], "nice": false, "zero": false}, "axis": null},
    "y": {"field": "v", "type": "quantitative", "scale": {"domain": [-182.7, 3.3], "nice": false, "zero": false}, "axis": null},
    "order": {"field": "t", "type": "quantitative"}}}
 ],
 "resolve": {"scale": {"x": "independent", "y": "independent"}, "axis": {"x": "independent", "y": "independent"}}
}
]
}
